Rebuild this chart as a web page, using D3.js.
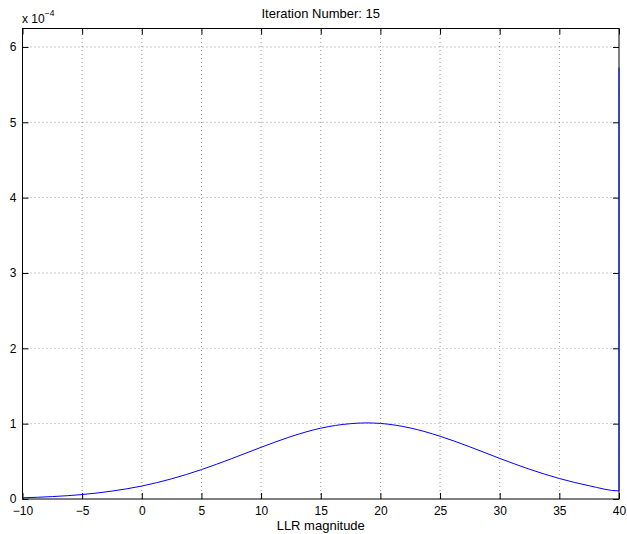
<!DOCTYPE html>
<html>
<head>
<meta charset="utf-8">
<script src="https://d3js.org/d3.v7.min.js"></script>
<style>
  body { margin: 0; background: #fff; }
  svg { display: block; font-family: "Liberation Sans", Arial, sans-serif; }
  .grid line { stroke: #000; stroke-width: 0.6; stroke-dasharray: 1 3; opacity: 0.7; }
</style>
</head>
<body>
<div id="holder"></div>
<script>
// LLR magnitude (x) and density (units of 1e-4)
const llrX = [-10, -7.5, -5, -2.5, 0, 2.5, 5, 7.5, 10, 12.5, 15, 17.5, 18.8, 20, 22.5, 25, 27.5, 30, 32.5, 35, 37.5, 40, 40];
const density = [0.016, 0.032, 0.059, 0.105, 0.172, 0.268, 0.39, 0.534, 0.686, 0.829, 0.94, 1.0, 1.01, 1.003, 0.943, 0.833, 0.692, 0.539, 0.395, 0.272, 0.176, 0.107, 5.73];
const xTicks = [-10, -5, 0, 5, 10, 15, 20, 25, 30, 35, 40];
const yTicks = [0, 1, 2, 3, 4, 5, 6];

const w = 627, h = 534;
const m = {left: 22.5, right: 8, top: 28.5, bottom: 35};

const svg = d3.select("#holder").append("svg")
    .attr("width", w).attr("height", h);

const xScale = d3.scaleLinear().domain([-10, 40]).range([m.left, w - m.right]);
const yScale = d3.scaleLinear().domain([0, 6.245]).range([h - m.bottom, m.top]);

//grid
const grid = svg.append("g").attr("class", "grid");
grid.selectAll(".vx").data(xTicks.slice(1, -1)).enter().append("line")
    .attr("x1", d => xScale(d)).attr("x2", d => xScale(d))
    .attr("y1", yScale.range()[0]).attr("y2", yScale.range()[1]);
grid.selectAll(".hy").data(yTicks.slice(1)).enter().append("line")
    .attr("y1", d => yScale(d)).attr("y2", d => yScale(d))
    .attr("x1", xScale.range()[0]).attr("x2", xScale.range()[1]);

//axes (MATLAB style ticks pointing inward, box on)
const tickLen = 6;
const xAxis = d3.axisBottom(xScale).tickValues(xTicks).tickSizeInner(-tickLen).tickSizeOuter(0)
    .tickPadding(7.5).tickFormat(d => d < 0 ? "\u2212" + Math.abs(d) : d);
svg.append("g").attr("transform", "translate(0," + yScale(0) + ")").call(xAxis);
svg.append("g").attr("transform", "translate(0," + m.top + ")")
    .call(d3.axisTop(xScale).tickValues(xTicks).tickSizeInner(-tickLen).tickSizeOuter(0).tickFormat(""));

const yAxis = d3.axisLeft(yScale).tickValues(yTicks).tickSizeInner(-tickLen).tickSizeOuter(0)
    .tickPadding(6).tickFormat(d3.format("d"));
svg.append("g").attr("transform", "translate(" + m.left + ",0)").call(yAxis);
svg.append("g").attr("transform", "translate(" + xScale(40) + ",0)")
    .call(d3.axisRight(yScale).tickValues(yTicks).tickSizeInner(-tickLen).tickSizeOuter(0).tickFormat(""));

svg.selectAll(".domain").remove();
svg.append("rect")
    .attr("x", m.left).attr("y", m.top)
    .attr("width", xScale(40) - m.left).attr("height", yScale(0) - m.top)
    .attr("fill", "none").attr("stroke", "#000").attr("stroke-width", 1);

svg.selectAll(".tick line").attr("stroke", "#000");
svg.selectAll(".tick text").attr("font-size", 12).attr("fill", "#000")
    .attr("font-family", "Liberation Sans, Arial, sans-serif");

//curve, drawn over the box so the spike at 40 shows
const pts = llrX.map((x, i) => [x, density[i]]);
svg.append("path")
    .datum(pts)
    .attr("fill", "none")
    .attr("stroke", "#0000ff")
    .attr("stroke-width", 1)
    .attr("d", d3.line().x(d => xScale(d[0])).y(d => yScale(d[1])).curve(d3.curveMonotoneX));

//labels
svg.append("text").attr("x", (m.left + xScale(40)) / 2).attr("y", 18)
    .attr("text-anchor", "middle").attr("font-size", 13).text("Iteration Number: 15");
svg.append("text").attr("x", (m.left + xScale(40)) / 2).attr("y", 529.5)
    .attr("text-anchor", "middle").attr("font-size", 13).text("LLR magnitude");

const exp = svg.append("text").attr("x", 22).attr("y", 22.5).attr("font-size", 12);
exp.append("tspan").text("x 10");
exp.append("tspan").attr("dy", -6.5).attr("font-size", 8.5).text("\u22124");
</script>
</body>
</html>
